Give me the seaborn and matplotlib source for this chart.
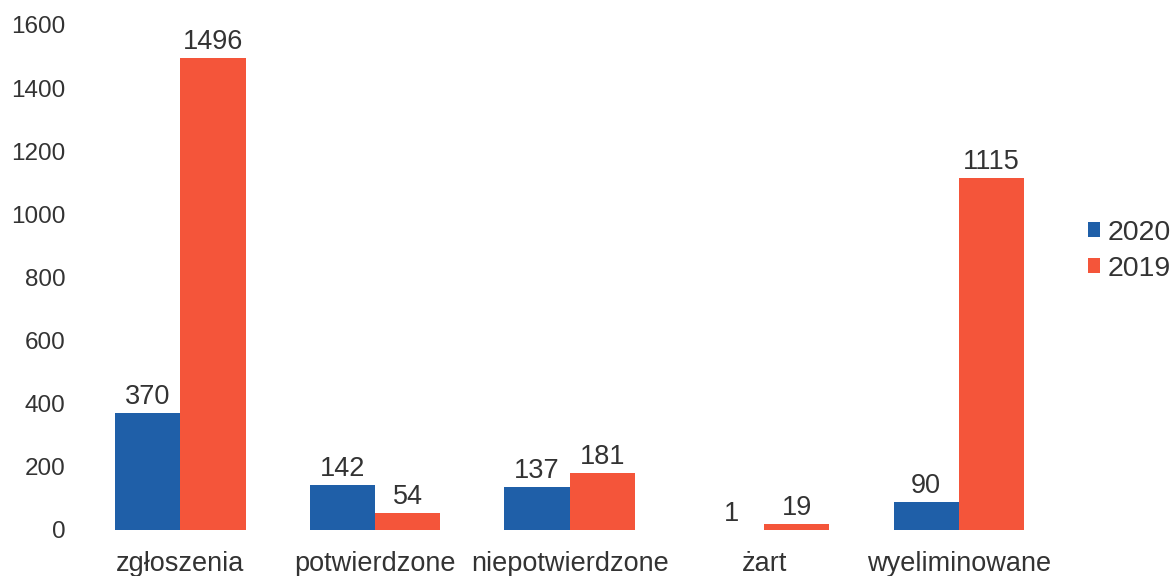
import matplotlib
matplotlib.use("Agg")
import matplotlib.pyplot as plt
import seaborn as sns
import pandas as pd

categories = ["zgłoszenia", "potwierdzone", "niepotwierdzone", "żart", "wyeliminowane"]
values_2020 = [370, 142, 137, 1, 90]
values_2019 = [1496, 54, 181, 19, 1115]
years = ["2020", "2019"]
colors = {"2020": "#1f5fa8", "2019": "#f4553a"}

df = pd.DataFrame({
    "kategoria": categories * 2,
    "rok": [years[0]] * len(categories) + [years[1]] * len(categories),
    "liczba": values_2020 + values_2019,
})

sns.set_style("white")
plt.rcParams["font.family"] = ["Liberation Sans", "DejaVu Sans"]

fig = plt.figure(figsize=(11.72, 5.76), dpi=100)
ax = fig.add_axes([0.071, 0.08, 0.83, 0.8766])

sns.barplot(data=df, x="kategoria", y="liczba", hue="rok", order=categories,
            hue_order=years, palette=colors, width=0.67, saturation=1,
            linewidth=0, ax=ax, legend=True)

for cont in ax.containers:
    ax.bar_label(cont, fmt="%d", padding=2, fontsize=19.5, color="#333333")

ax.set_ylim(0, 1600)
ax.set_xlim(-0.5, 4.5)
ax.set_yticks(range(0, 1601, 200))
ax.set_xlabel("")
ax.set_ylabel("")
ax.tick_params(axis="both", length=0, colors="#333333")
ax.tick_params(axis="y", pad=13, labelsize=17.5)
ax.tick_params(axis="x", pad=15, labelsize=19.5)
for s in ax.spines.values():
    s.set_visible(False)

leg = ax.legend(loc="center left", bbox_to_anchor=(1.033, 0.553), frameon=False,
                fontsize=20.5, handlelength=0.42, handleheight=0.42,
                handletextpad=0.25, labelspacing=0.35, borderpad=0,
                borderaxespad=0)
for t in leg.get_texts():
    t.set_color("#333333")

fig.savefig("out.png", dpi=100)
